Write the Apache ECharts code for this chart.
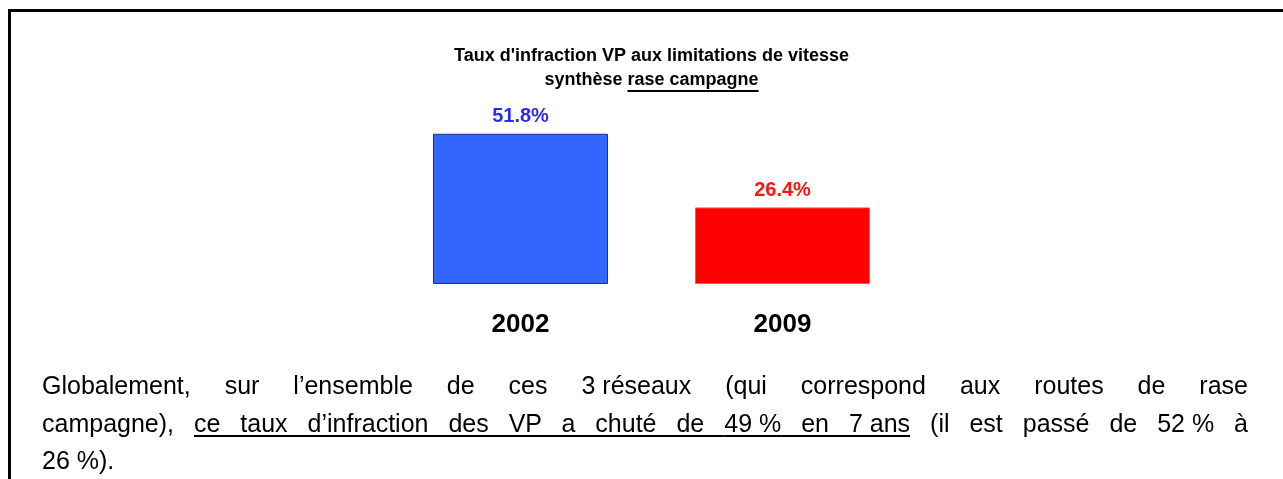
<!DOCTYPE html>
<html>
<head>
<meta charset="utf-8">
<script src="https://cdn.jsdelivr.net/npm/echarts@6/dist/echarts.min.js"></script>
<style>
  html, body { margin: 0; padding: 0; background: #fff; }
  #page { position: relative; width: 1283px; height: 479px; overflow: hidden; }
  #frame {
    position: absolute; left: 8px; top: 9px; width: 1400px; height: 600px;
    border-left: 3px solid #000; border-top: 3px solid #000;
  }
  #main { position: absolute; left: 0; top: 0; width: 1283px; height: 479px; }
  #note {
    position: absolute; left: 42px; top: 367px; width: 1206px; margin: 0;
    font: 25px "Liberation Sans", Arial, sans-serif; line-height: 37.5px;
    color: #000;
  }
  #note > span { display: block; white-space: nowrap; }
  #note > span.j { white-space: normal; text-align: justify; text-align-last: justify; }
  #note u, #note .nb.ul {
    text-decoration: underline; text-decoration-thickness: 2px; text-underline-offset: 3px;
  }
  #note .nb { display: inline-block; white-space: nowrap; font-style: normal; }
</style>
</head>
<body>
<div id="page">
  <div id="frame"></div>
  <div id="main"></div>
  <p id="note"><span class="j">Globalement, sur l’ensemble de ces <i class="nb">3&nbsp;réseaux</i> (qui correspond aux routes de rase</span><span class="j">campagne), <u>ce taux d’infraction des VP a chuté de <i class="nb ul">49&nbsp;%</i> en <i class="nb ul">7&nbsp;ans</i></u> (il est passé de <i class="nb">52&nbsp;%</i> à</span><span>26&nbsp;%).</span></p>
</div>
<script>
// data
const years = ["2002", "2009"];
const rates = [51.8, 26.4];
const barColors = ["#3366FF", "#FF0000"];
const borderColors = ["#1F2A9C", "#FF5555"];
const labelColors = ["#2A2AFF", "#FF1414"];
const titleLine1 = "Taux d'infraction VP aux limitations de vitesse";
const titleLead = "synthèse ";
const titleUnderlined = "rase campagne";

const FONT = '"Liberation Sans", Arial, sans-serif';
const titleFont = "bold 18px " + FONT;
const cx = 651.5;

// measure the second title line so the underline sits under "rase campagne"
const ctx = document.createElement("canvas").getContext("2d");
ctx.font = titleFont;
const leadW = ctx.measureText(titleLead).width;
const uW = ctx.measureText(titleUnderlined).width;
const lineW = leadW + uW;
const uX = cx - lineW / 2 + leadW;

const chart = echarts.init(document.getElementById("main"));

const option = {
  animation: false,
  grid: { left: 389.5, width: 524, top: 110, height: 174 },
  xAxis: {
    type: "category",
    data: years,
    axisLine: { show: false },
    axisTick: { show: false },
    axisLabel: {
      color: "#000",
      fontSize: 26,
      fontWeight: "bold",
      fontFamily: FONT,
      margin: 28,
    },
  },
  yAxis: { type: "value", min: 0, max: 60, show: false },
  series: [
    {
      type: "bar",
      barWidth: 175,
      data: rates.map((v, i) => ({
        value: v,
        itemStyle: {
          color: barColors[i],
          borderColor: borderColors[i],
          borderWidth: 1,
        },
        label: { color: labelColors[i] },
      })),
      label: {
        show: true,
        position: "top",
        distance: 7,
        formatter: "{c}%",
        fontSize: 20,
        fontWeight: "bold",
        fontFamily: FONT,
      },
    },
  ],
  graphic: [
    {
      type: "text",
      x: cx,
      y: 47.5,
      style: {
        text: titleLine1,
        font: titleFont,
        fill: "#000",
        align: "center",
        verticalAlign: "top",
      },
    },
    {
      type: "text",
      x: cx,
      y: 71.5,
      style: {
        text: titleLead + titleUnderlined,
        font: titleFont,
        fill: "#000",
        align: "center",
        verticalAlign: "top",
      },
    },
    {
      type: "line",
      shape: { x1: uX, y1: 91, x2: uX + uW, y2: 91 },
      style: { stroke: "#000", lineWidth: 2 },
    },
  ],
};

chart.setOption(option);
</script>
</body>
</html>
